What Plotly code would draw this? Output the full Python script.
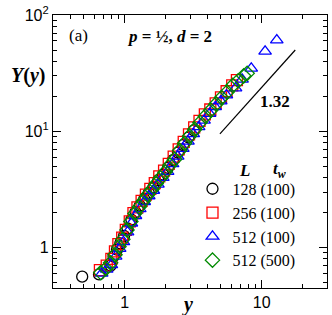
import plotly.graph_objects as go

# ---- data ----
x_128 = [0.49, 0.65, 0.79, 0.83, 0.88, 0.93, 0.99, 1.05, 1.12, 1.20, 1.29, 1.39, 1.50, 1.62, 1.76, 1.91, 2.07, 2.25, 2.45, 2.67, 2.92, 3.20]
y_128 = [0.563, 0.589, 0.70, 0.84, 0.96, 1.09, 1.26, 1.46, 1.74, 2.02, 2.30, 2.62, 2.96, 3.30, 3.80, 4.25, 4.85, 5.65, 6.55, 7.6, 8.85, 10.2]

x_256 = [0.66, 0.74, 0.80, 0.85, 0.90, 0.96, 1.02, 1.09, 1.16, 1.24, 1.33, 1.43, 1.54, 1.66, 1.79, 1.94, 2.10, 2.28, 2.48, 2.70, 2.95, 3.22, 3.52, 3.85, 4.22, 4.62, 5.05, 5.55, 6.10, 6.60]
y_256 = [0.64, 0.70, 0.80, 0.93, 1.07, 1.22, 1.42, 1.68, 1.98, 2.22, 2.52, 2.86, 3.20, 3.58, 4.10, 4.60, 5.25, 6.05, 7.0, 8.1, 9.4, 10.8, 12.3, 14.0, 15.4, 17.4, 19.6, 22.1, 24.8, 27.5]

x_512a = [0.68, 0.74, 0.80, 0.86, 0.92, 0.98, 1.05, 1.12, 1.20, 1.29, 1.39, 1.50, 1.62, 1.75, 1.90, 2.06, 2.24, 2.44, 2.66, 2.90, 3.17, 3.47, 3.80, 4.17, 4.58, 5.03, 5.53, 6.45, 7.20, 8.40, 10.6, 12.9]
y_512a = [0.60, 0.65, 0.71, 0.84, 0.98, 1.12, 1.36, 1.62, 1.88, 2.15, 2.48, 2.78, 3.10, 3.50, 4.0, 4.5, 5.25, 6.1, 7.1, 8.2, 9.5, 10.9, 12.4, 14.2, 16.2, 18.2, 20.5, 23.5, 28.0, 34.8, 48.7, 60.9]

x_512b = [0.67, 0.73, 0.79, 0.85, 0.91, 0.97, 1.04, 1.11, 1.19, 1.28, 1.37, 1.47, 1.58, 1.70, 1.83, 1.98, 2.14, 2.32, 2.52, 2.74, 2.98, 3.25, 3.55, 3.88, 4.25, 4.65, 5.10, 5.60, 6.15, 6.75, 7.40, 7.84]
y_512b = [0.61, 0.66, 0.74, 0.87, 1.02, 1.18, 1.42, 1.68, 1.97, 2.24, 2.52, 2.84, 3.16, 3.55, 3.98, 4.48, 5.12, 5.75, 6.85, 7.9, 9.1, 10.4, 11.9, 13.5, 15.2, 17.2, 19.5, 21.8, 24.8, 27.2, 30.0, 31.5]

labels = ["128 (100)", "256 (100)", "512 (100)", "512 (500)"]

guide_x = [4.96, 17.6]
guide_y = [9.5, 50.0]
slope_label = "1.32"

x_tickvals = [1, 10]
x_ticktext = ["1", "10"]
y_tickvals = [1, 10, 100]
y_ticktext = ["1", "10<sup>1</sup>", "10<sup>2</sup>"]

x_minor = [0.4, 0.5, 0.6, 0.7, 0.8, 0.9, 2, 3, 4, 5, 6, 7, 8, 9, 20]
y_minor = [0.5, 0.6, 0.7, 0.8, 0.9, 2, 3, 4, 5, 6, 7, 8, 9, 20, 30, 40, 50, 60, 70, 80, 90]

serif = "Liberation Serif"
sans = "Liberation Sans"

W, H = 332, 315
ML, MR, MT, MB = 53, 4, 13, 27
pw, ph = W - ML - MR, H - MT - MB


def px(xp):
    return (xp - ML) / pw


def py(yp):
    return (H - MB - yp) / ph


fig = go.Figure()

series = [
    (x_128, y_128, "circle-open", "black", labels[0]),
    (x_256, y_256, "square-open", "#ff0000", labels[1]),
    (x_512a, y_512a, "triangle-up-open", "#0000ff", labels[2]),
    (x_512b, y_512b, "diamond-open", "#008a00", labels[3]),
]
for xs, ys, sym, col, name in series:
    fig.add_trace(go.Scatter(
        x=xs, y=ys, mode="markers", name=name,
        marker=dict(symbol=sym, size=11, color=col, line=dict(width=1.3, color=col)),
    ))

fig.add_trace(go.Scatter(x=guide_x, y=guide_y, mode="lines",
                         line=dict(color="black", width=1.2), showlegend=False, hoverinfo="skip"))

axis_common = dict(
    type="log", showgrid=False, zeroline=False,
    showline=True, linecolor="black", linewidth=1.2, mirror="ticks",
    ticks="inside", ticklen=8, tickwidth=1, tickcolor="black",
    tickfont=dict(family=sans, size=16, color="black"),
)

fig.update_xaxes(**axis_common, range=[-0.5229, 1.4771],
                 tickvals=x_tickvals, ticktext=x_ticktext,
                 minor=dict(tickvals=x_minor, ticks="inside", ticklen=4, tickcolor="black", showgrid=False))
fig.update_yaxes(**axis_common, range=[-0.347, 2.0],
                 tickvals=y_tickvals, ticktext=y_ticktext,
                 minor=dict(tickvals=y_minor, ticks="inside", ticklen=4, tickcolor="black", showgrid=False))


def ann(text, xp, yp, size, xanchor="center"):
    return dict(text=text, x=px(xp), y=py(yp), xref="paper", yref="paper", showarrow=False,
                font=dict(family=serif, size=size, color="black"),
                xanchor=xanchor, yanchor="middle")


fig.update_layout(
    width=W, height=H,
    margin=dict(l=ML, r=MR, t=MT, b=MB),
    paper_bgcolor="white", plot_bgcolor="white",
    showlegend=True,
    legend=dict(x=px(193), y=py(171), xanchor="left", yanchor="top",
                font=dict(family=serif, size=16, color="black"),
                bgcolor="rgba(0,0,0,0)", borderwidth=0, itemwidth=30),
    annotations=[
        ann("(a)", 79, 34, 17),
        ann("<b><i>p</i> = ½, <i>d</i> = 2</b>", 170, 35, 17),
        ann("<b>" + slope_label + "</b>", 276, 100, 17),
        ann("<b><i>Y</i>(<i>y</i>)</b>", 28, 74, 20),
        ann("<b><i>y</i></b>", 188, 305, 20),
        ann("<b><i>L</i></b>", 245, 170, 17),
        ann("<b><i>t<sub>w</sub></i></b>", 280, 169, 17),
    ],
)

fig.write_html("out.html", config={"displayModeBar": False},
               post_script="document.body.style.margin='0';document.body.style.padding='0';")
